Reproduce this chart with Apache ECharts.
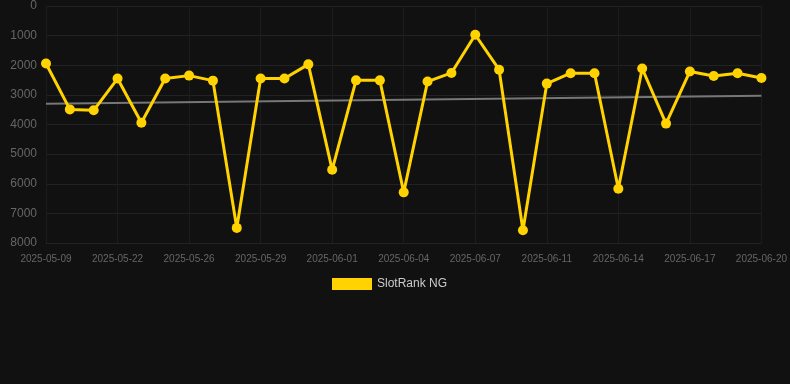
<!DOCTYPE html>
<html>
<head>
<meta charset="utf-8">
<script src="https://cdn.jsdelivr.net/npm/echarts@6/dist/echarts.min.js"></script>
<style>
html, body { margin: 0; padding: 0; background: #111111; }
#chart { width: 790px; height: 384px; }
</style>
</head>
<body>
<div id="chart"></div>
<script>
var dates = ['2025-05-09', '2025-05-13', '2025-05-18', '2025-05-22', '2025-05-24', '2025-05-25',
	'2025-05-26', '2025-05-27', '2025-05-28', '2025-05-29', '2025-05-30', '2025-05-31',
	'2025-06-01', '2025-06-02', '2025-06-03', '2025-06-04', '2025-06-05', '2025-06-06',
	'2025-06-07', '2025-06-09', '2025-06-10', '2025-06-11', '2025-06-12', '2025-06-13',
	'2025-06-14', '2025-06-15', '2025-06-16', '2025-06-17', '2025-06-18', '2025-06-19',
	'2025-06-20'];
var rankValues = [1940, 3490, 3520, 2450, 3940, 2450, 2350, 2520, 7490, 2450, 2450, 1970,
	5530, 2510, 2510, 6290, 2550, 2260, 970, 2150, 7570, 2620, 2270, 2270,
	6170, 2110, 3970, 2210, 2360, 2270, 2430];
// trend line end points (first and last category)
var trendStart = 3300;
var trendEnd = 3030;

var chart = echarts.init(document.getElementById('chart'));

var trendData = [[dates[0], trendStart], [dates[dates.length - 1], trendEnd]];

var option = {
	backgroundColor: '#111111',
	animation: false,
	legend: {
		data: ['SlotRank NG'],
		top: 278,
		left: 332,
		padding: 0,
		itemWidth: 40,
		itemHeight: 12,
		icon: 'rect',
		textStyle: { color: '#cccccc', fontSize: 12, fontFamily: 'Arial, "Liberation Sans", sans-serif' }
	},
	grid: {
		left: 46,
		right: 28,
		top: 6,
		bottom: 141
	},
	xAxis: {
		type: 'category',
		boundaryGap: false,
		data: dates,
		axisLine: { show: false },
		axisTick: { show: false },
		axisLabel: {
			interval: 2,
			color: '#666666',
			fontSize: 10,
			margin: 11,
			fontFamily: 'Arial, "Liberation Sans", sans-serif'
		},
		splitLine: { show: true, interval: 2, lineStyle: { color: '#1c1c1c', width: 1 } }
	},
	yAxis: {
		type: 'value',
		inverse: true,
		min: 0,
		max: 8000,
		interval: 1000,
		axisLine: { show: false },
		axisTick: { show: false },
		axisLabel: {
			color: '#666666',
			fontSize: 12,
			margin: 9,
			formatter: function (v) { return String(v); },
			fontFamily: 'Arial, "Liberation Sans", sans-serif'
		},
		splitLine: { lineStyle: { color: '#222222', width: 1 } }
	},
	series: [{
		name: 'Trend',
		type: 'line',
		data: trendData,
		symbol: 'none',
		silent: true,
		lineStyle: { color: '#777777', width: 2 },
		z: 1
	}, {
		name: 'SlotRank NG',
		type: 'line',
		data: rankValues,
		symbol: 'circle',
		symbolSize: 10,
		itemStyle: { color: '#FFD200' },
		lineStyle: { color: '#FFD200', width: 3 },
		z: 2
	}]
};
chart.setOption(option);
</script>
</body>
</html>
